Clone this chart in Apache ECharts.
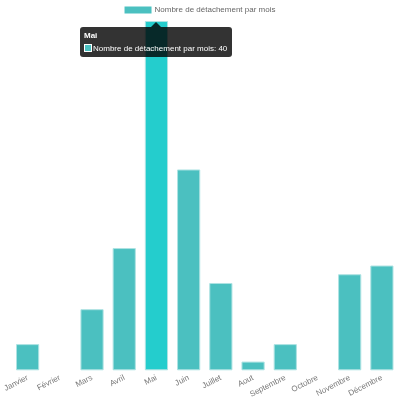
<!DOCTYPE html>
<html>
<head>
<meta charset="utf-8">
<script src="https://cdn.jsdelivr.net/npm/echarts@6/dist/echarts.min.js"></script>
<style>
html,body{margin:0;padding:0;background:#fff;}
#chart{width:400px;height:400px;}
</style>
</head>
<body>
<div id="chart"></div>
<script>
const categories = ['Janvier','Février','Mars','Avril','Mai','Juin','Juillet','Aout','Septembre','Octobre','Novembre','Décembre'];
const seriesName = 'Nombre de détachement par mois';
const values = [3, 0, 7, 14, 40, 23, 10, 1, 3, 0, 11, 12];
const yMax = 40;
const hoverIndex = 4;

const FONT = '"Liberation Sans", Arial, Helvetica, sans-serif';
const chart = echarts.init(document.getElementById('chart'), null, {renderer: 'canvas'});

const barData = values.map(function (v) {
  return v === 0 ? {value: v, itemStyle: {borderWidth: 0}} : v;
});

chart.setOption({
  animation: false,
  textStyle: {fontFamily: FONT},
  legend: {
    top: 6,
    left: 'center',
    padding: 0,
    itemWidth: 27,
    itemHeight: 7,
    itemGap: 10,
    icon: 'rect',
    itemStyle: {borderWidth: 0},
    textStyle: {fontSize: 8, color: '#666', fontFamily: FONT, padding: [0, 0, 0, -2]},
    data: [seriesName]
  },
  tooltip: {
    trigger: 'item',
    triggerOn: 'none',
    alwaysShowContent: true,
    backgroundColor: 'rgba(0,0,0,0.8)',
    borderWidth: 0,
    padding: [4, 5, 4, 4],
    extraCssText: 'border-radius:3px;box-shadow:none;',
    textStyle: {color: '#fff', fontSize: 8, fontFamily: FONT},
    formatter: function (p) {
      return '<div style="position:absolute;left:50%;top:-5px;margin-left:-5px;width:0;height:0;border-left:5px solid transparent;border-right:5px solid transparent;border-bottom:5px solid rgba(0,0,0,0.8);"></div>' +
        '<div style="font-weight:bold;line-height:9px;margin-bottom:4px;font-size:8px;">' + p.name + '</div>' +
        '<div style="line-height:9px;font-size:8px;white-space:nowrap;">' +
        '<span style="display:inline-block;width:6px;height:6px;background:#4bc0c0;border:1px solid #fff;vertical-align:-1px;margin-right:1px;"></span>' +
        p.seriesName + ': ' + p.value + '</div>';
    },
    position: function (point, params, dom, rect, size) {
      let cx, top;
      if (rect) {
        cx = rect.x + rect.width / 2;
        top = rect.y + 6;
      } else {
        const px = chart.convertToPixel({seriesIndex: 0}, [params.dataIndex, params.value]);
        cx = px[0]; top = px[1] + 6;
      }
      return [cx - size.contentSize[0] / 2, top];
    }
  },
  grid: {left: 11.5, right: 2, top: 21, bottom: 29, containLabel: false},
  xAxis: {
    type: 'category',
    data: categories,
    axisLine: {show: false},
    axisTick: {show: false},
    splitLine: {show: false},
    axisLabel: {
      interval: 0,
      rotate: 27,
      margin: 7,
      fontSize: 8,
      color: '#777',
      fontFamily: FONT
    }
  },
  yAxis: {
    type: 'value',
    min: 0,
    max: yMax,
    show: false,
    splitLine: {show: false}
  },
  series: [{
    name: seriesName,
    type: 'bar',
    data: barData,
    barWidth: '72%',
    itemStyle: {color: '#4bc0c0', borderColor: '#aee3e3', borderWidth: 1},
    emphasis: {itemStyle: {color: '#24cdcd', borderColor: '#aee3e3', borderWidth: 1}}
  }]
});

chart.dispatchAction({type: 'highlight', seriesIndex: 0, dataIndex: hoverIndex});
chart.dispatchAction({type: 'showTip', seriesIndex: 0, dataIndex: hoverIndex});
</script>
</body>
</html>
